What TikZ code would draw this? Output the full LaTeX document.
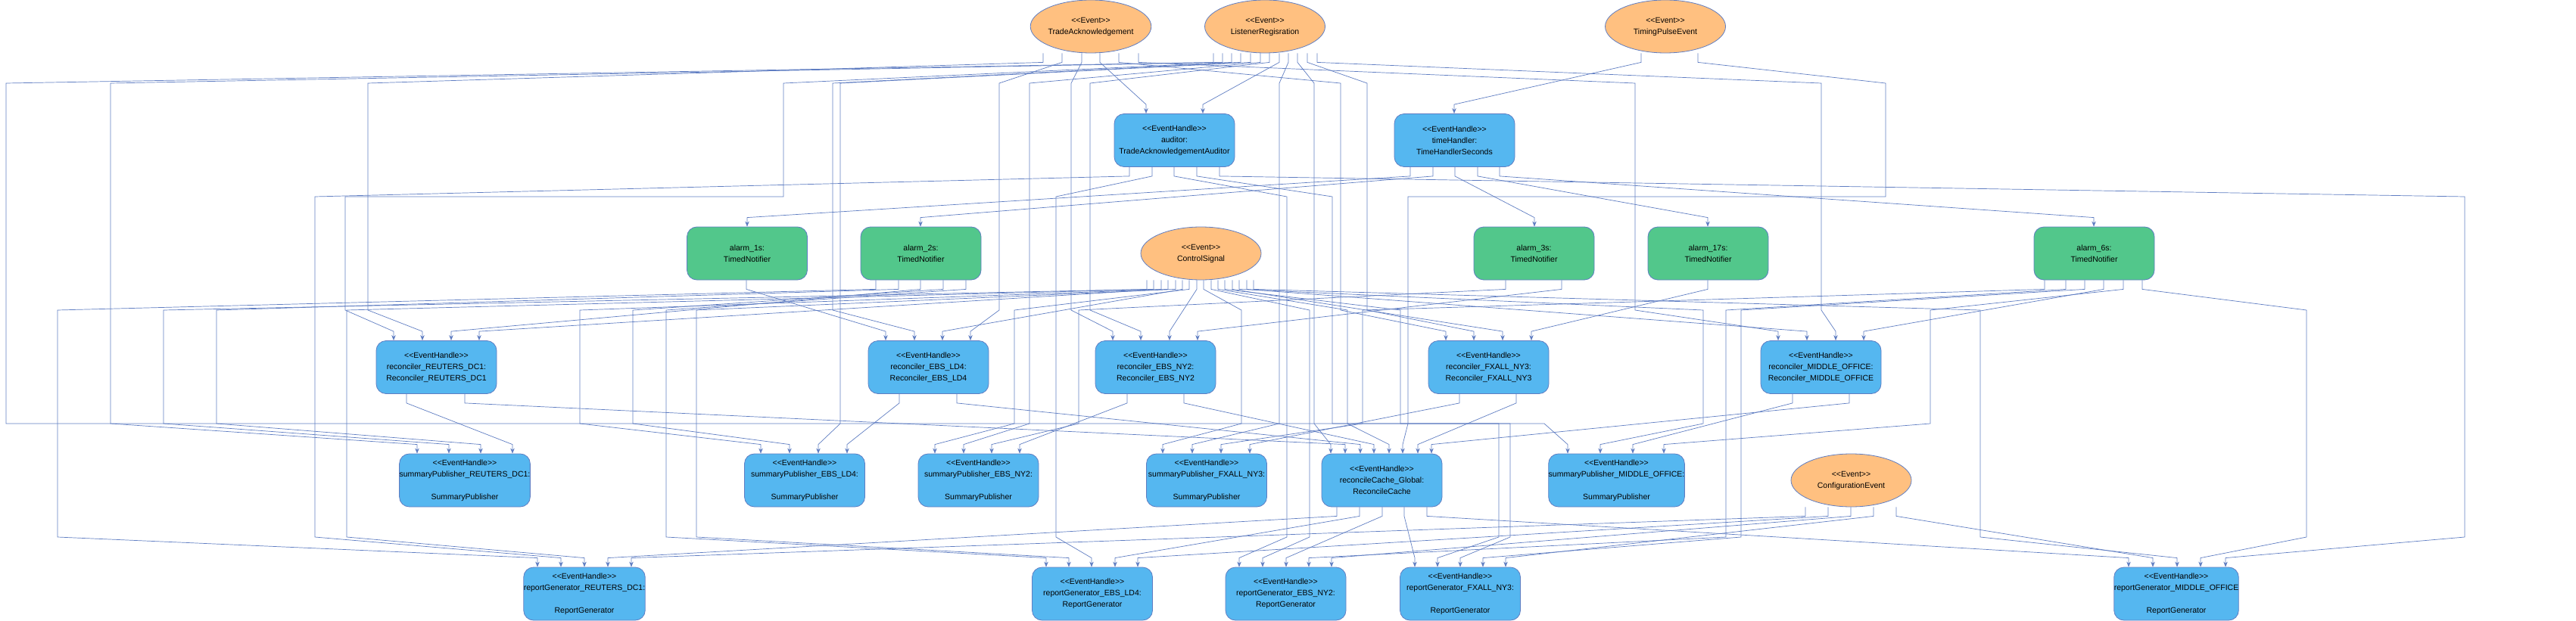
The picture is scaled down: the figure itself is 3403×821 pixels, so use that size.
\documentclass[tikz,border=0pt]{standalone}
\usepackage{fontspec}
\setmainfont{Liberation Sans}
\usetikzlibrary{shapes.geometric,arrows.meta,calc}
\definecolor{edgecol}{HTML}{5F7DC2}
\definecolor{bluefill}{HTML}{55B7F0}
\definecolor{greenfill}{HTML}{52C78B}
\definecolor{orangefill}{HTML}{FFC080}
\newcommand\stt[1]{<\kern0pt<#1>\kern0pt>}
\newcommand\cn[5]{\draw[conn] (#2,0 |- #1.south) -- ++(0,12) #5 -- ($(#4,0 |- #3.north)+(0,-12)$) -- (#4,0 |- #3.north);}
\tikzset{
  base/.style={minimum width=159pt, minimum height=70pt, inner sep=0pt, align=center, draw=edgecol, line width=0.8pt, font=\fontsize{10.5}{15}\selectfont},
  handler/.style={base, rounded corners=13pt, fill=bluefill},
  timer/.style={base, rounded corners=13pt, fill=greenfill},
  evt/.style={base, ellipse, fill=orangefill},
  conn/.style={draw=edgecol, line width=0.7pt, -{Stealth[length=7pt,width=5.5pt]}}
}
\begin{document}
\begin{tikzpicture}[x=1pt,y=-1pt]
\useasboundingbox[fill=white] (0,0) rectangle (3403,821);
% layer 0
\node[evt] (ta) at (1441,35) {\stt{Event}\\TradeAcknowledgement};
\node[evt] (lr) at (1671,35) {\stt{Event}\\ListenerRegisration};
\node[evt] (tp) at (2200,35) {\stt{Event}\\TimingPulseEvent};
% layer 1
\node[handler] (au) at (1551.5,185.5) {\stt{EventHandle}\\auditor:\\TradeAcknowledgementAuditor};
\node[handler] (th) at (1921.5,185.5) {\stt{EventHandle}\\timeHandler:\\TimeHandlerSeconds};
% layer 2
\node[timer] (a1) at (987,335) {alarm\_1s:\\TimedNotifier};
\node[timer] (a2) at (1216.5,335) {alarm\_2s:\\TimedNotifier};
\node[evt] (cs) at (1586.5,335) {\stt{Event}\\ControlSignal};
\node[timer] (a3) at (2026.5,335) {alarm\_3s:\\TimedNotifier};
\node[timer] (a17) at (2256.5,335) {alarm\_17s:\\TimedNotifier};
\node[timer] (a6) at (2766.5,335) {alarm\_6s:\\TimedNotifier};
% layer 3
\node[handler] (rR) at (576.5,485.5) {\stt{EventHandle}\\reconciler\_REUTERS\_DC1:\\Reconciler\_REUTERS\_DC1};
\node[handler] (rL) at (1226.5,485.5) {\stt{EventHandle}\\reconciler\_EBS\_LD4:\\Reconciler\_EBS\_LD4};
\node[handler] (rN) at (1526.5,485.5) {\stt{EventHandle}\\reconciler\_EBS\_NY2:\\Reconciler\_EBS\_NY2};
\node[handler] (rF) at (1966.5,485.5) {\stt{EventHandle}\\reconciler\_FXALL\_NY3:\\Reconciler\_FXALL\_NY3};
\node[handler] (rM) at (2405.5,485.5) {\stt{EventHandle}\\reconciler\_MIDDLE\_OFFICE:\\Reconciler\_MIDDLE\_OFFICE};
% layer 4
\node[handler] (sR) at (614,635) {\stt{EventHandle}\\summaryPublisher\_REUTERS\_DC1:\\[15pt]SummaryPublisher};
\node[handler] (sL) at (1063,635) {\stt{EventHandle}\\summaryPublisher\_EBS\_LD4:\\[15pt]SummaryPublisher};
\node[handler] (sN) at (1292.5,635) {\stt{EventHandle}\\summaryPublisher\_EBS\_NY2:\\[15pt]SummaryPublisher};
\node[handler] (sF) at (1594,635) {\stt{EventHandle}\\summaryPublisher\_FXALL\_NY3:\\[15pt]SummaryPublisher};
\node[handler] (rc) at (1825.5,635) {\stt{EventHandle}\\reconcileCache\_Global:\\ReconcileCache};
\node[handler] (sM) at (2135.5,635) {\stt{EventHandle}\\summaryPublisher\_MIDDLE\_OFFICE:\\[15pt]SummaryPublisher};
\node[evt] (ce) at (2445.5,635) {\stt{Event}\\ConfigurationEvent};
% layer 5
\node[handler] (gR) at (772,785) {\stt{EventHandle}\\reportGenerator\_REUTERS\_DC1:\\[15pt]ReportGenerator};
\node[handler] (gL) at (1443,785) {\stt{EventHandle}\\reportGenerator\_EBS\_LD4:\\ReportGenerator};
\node[handler] (gN) at (1698.5,785) {\stt{EventHandle}\\reportGenerator\_EBS\_NY2:\\ReportGenerator};
\node[handler] (gF) at (1929,785) {\stt{EventHandle}\\reportGenerator\_FXALL\_NY3:\\[15pt]ReportGenerator};
\node[handler] (gM) at (2875,785) {\stt{EventHandle}\\reportGenerator\_MIDDLE\_OFFICE\\[15pt]ReportGenerator};
% ---- connectors ----
\cn{ta}{1453}{au}{1514}{}
\cn{lr}{1690}{au}{1589}{}
\cn{tp}{2168}{th}{1921}{}
\cn{tp}{2243}{rc}{1853}{-- (2491,110) -- (2491,260) -- (1860,260) -- (1860,560)}
\cn{ta}{1378}{rR}{558}{-- (486,110) -- (486,410)}
\cn{ta}{1403}{rL}{1282}{-- (1320,110) -- (1320,410)}
\cn{ta}{1429}{rN}{1470}{-- (1415,110) -- (1415,410)}
\cn{ta}{1478}{rF}{1910}{-- (1771,110) -- (1771,410)}
\cn{ta}{1504}{rM}{2349}{-- (2160,110) -- (2160,410)}
\cn{lr}{1603}{sM}{2071}{-- (8,110) -- (8,560) -- (2040,560)}
\cn{lr}{1615}{sR}{551}{-- (146,110) -- (146,560)}
\cn{lr}{1627}{rR}{520}{-- (1035,110) -- (1035,260) -- (456,260) -- (456,410)}
\cn{lr}{1639}{rL}{1208}{-- (1100,110) -- (1100,410)}
\cn{lr}{1652}{sL}{1081}{-- (1110,110) -- (1110,560)}
\cn{lr}{1665}{sN}{1273}{-- (1360,110) -- (1360,560)}
\cn{lr}{1677}{rN}{1507}{-- (1440,110) -- (1440,410)}
\cn{lr}{1702}{sF}{1575}{-- (1690,110) -- (1690,560)}
\cn{lr}{1714}{rc}{1758}{-- (1736,110) -- (1736,560)}
\cn{lr}{1727}{rF}{1947}{-- (1806,110) -- (1806,410)}
\cn{lr}{1740}{rM}{2425}{-- (2406,110) -- (2406,410)}
\cn{au}{1492}{gR}{741}{-- (416,260) -- (416,710)}
\cn{au}{1522}{gL}{1442}{-- (1395,260) -- (1395,710)}
\cn{au}{1551}{gN}{1637}{-- (1700,260) -- (1700,710)}
\cn{au}{1581}{gF}{1899}{-- (1760,260) -- (1760,560) -- (1980,560) -- (1980,710)}
\cn{au}{1611}{gM}{2940}{-- (3256,260) -- (3256,710)}
\cn{th}{1863}{a1}{987}{}
\cn{th}{1893}{a2}{1216}{}
\cn{th}{1922}{a3}{2027}{}
\cn{th}{1952}{a17}{2256}{}
\cn{th}{1981}{a6}{2766}{}
\cn{a1}{986}{rL}{1170}{}
\cn{a2}{1157}{gR}{710}{-- (76,410) -- (76,710)}
\cn{a2}{1187}{sR}{635}{-- (286,410) -- (286,560)}
\cn{a2}{1216}{rR}{596}{}
\cn{a2}{1246}{sL}{1043}{-- (836,410) -- (836,560)}
\cn{a2}{1276}{gL}{1382}{-- (880,410) -- (880,710)}
\cn{a3}{1989}{sN}{1310}{-- (1425,410) -- (1425,560)}
\cn{a3}{2063}{rN}{1582}{}
\cn{a17}{2256}{rF}{2023}{}
\cn{a6}{2701}{sF}{1613}{-- (1800,410) -- (1800,560)}
\cn{a6}{2729}{gN}{1729}{-- (2280,410) -- (2280,710)}
\cn{a6}{2754}{gF}{1959}{-- (2300,410) -- (2300,710)}
\cn{a6}{2779}{rM}{2462}{}
\cn{a6}{2805}{sM}{2198}{-- (2550,410) -- (2550,560)}
\cn{a6}{2830}{gM}{2907}{-- (3047,410) -- (3047,710)}
\cn{cs}{1515}{sR}{593}{-- (216,410) -- (216,560)}
\cn{cs}{1524}{gR}{772}{-- (458,410) -- (458,710)}
\cn{cs}{1534}{rR}{633}{}
\cn{cs}{1543}{sL}{1005}{-- (766,410) -- (766,560)}
\cn{cs}{1553}{gL}{1412}{-- (920,410) -- (920,710)}
\cn{cs}{1562}{rL}{1245}{}
\cn{cs}{1571}{sN}{1235}{-- (1340,410) -- (1340,560)}
\cn{cs}{1581}{rN}{1545}{}
\cn{cs}{1590}{sF}{1536}{-- (1640,410) -- (1640,560)}
\cn{cs}{1600}{gN}{1668}{-- (1730,410) -- (1730,710)}
\cn{cs}{1609}{rc}{1835}{-- (1780,410) -- (1780,560)}
\cn{cs}{1618}{gF}{1929}{-- (1850,410) -- (1850,560) -- (1995,560) -- (1995,710)}
\cn{cs}{1628}{rF}{1985}{}
\cn{cs}{1637}{sM}{2114}{-- (2250,410) -- (2250,560)}
\cn{cs}{1647}{rM}{2387}{}
\cn{cs}{1656}{gM}{2876}{-- (2616,410) -- (2616,710)}
\cn{rR}{537}{sR}{677}{}
\cn{rR}{614}{rc}{1777}{}
\cn{rL}{1188}{sL}{1119}{}
\cn{rL}{1264}{rc}{1797}{}
\cn{rN}{1489}{sN}{1347}{}
\cn{rN}{1564}{rc}{1815}{}
\cn{rF}{1928}{sF}{1651}{}
\cn{rF}{2003}{rc}{1873}{}
\cn{rM}{2368}{sM}{2157}{}
\cn{rM}{2443}{rc}{1891}{}
\cn{rc}{1766}{gR}{803}{}
\cn{rc}{1796}{gL}{1473}{}
\cn{rc}{1826}{gN}{1699}{}
\cn{rc}{1855}{gF}{1869}{}
\cn{rc}{1885}{gM}{2812}{}
\cn{ce}{2385}{gR}{834}{}
\cn{ce}{2415}{gL}{1503}{}
\cn{ce}{2445}{gN}{1759}{}
\cn{ce}{2475}{gF}{1989}{}
\cn{ce}{2505}{gM}{2844}{}
\end{tikzpicture}
\end{document}
